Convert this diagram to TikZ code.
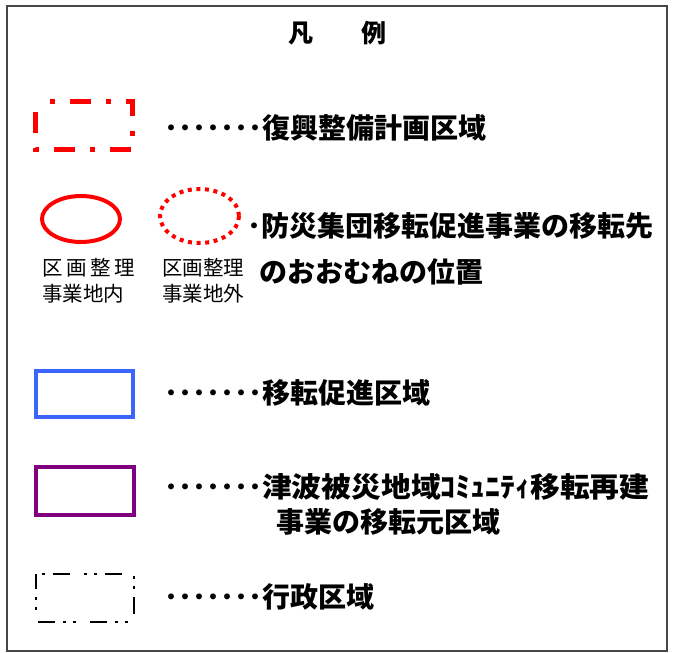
\documentclass[tikz,border=0pt]{standalone}
\usepackage{fontspec}
\setmainfont{Noto Sans CJK JP}[BoldFont={Noto Sans CJK JP Black}]
\definecolor{legblue}{RGB}{60,100,255}
\definecolor{legpurple}{RGB}{128,0,128}
\definecolor{framegray}{RGB}{70,70,70}
\tikzset{
  big/.style={inner sep=0pt, anchor=base west, font=\fontsize{28}{30}\selectfont\bfseries},
  small/.style={inner sep=0pt, anchor=base west, font=\fontsize{20.5}{22}\selectfont},
}
\begin{document}
\begin{tikzpicture}[x=1pt,y=-1pt]
\useasboundingbox (0,0) rectangle (675,653);
% frame
\draw[framegray, line width=2pt] (7,6) rectangle (667,651);
% title
\node[inner sep=0pt, anchor=base, font=\fontsize{25}{27}\selectfont\bfseries] (title) at (337,42) {凡\hspace{48pt}例};
% row 1: red dash-dot rectangle
\draw[red, line width=5pt, dash pattern=on 21pt off 15pt on 5pt off 15pt, dash phase=21.5pt]
  (35.5,101.5) -- (132.5,101.5) -- (132.5,149.5) -- (35.5,149.5) -- cycle;
\node[big] (t1) at (164,138.6) {･･･････復興整備計画区域};
% row 2: ellipses
\draw[red, line width=4pt] (81,219) ellipse [x radius=39, y radius=23];
\draw[red, line width=4pt, dash pattern=on 4pt off 4.6pt] (199.5,216) ellipse [x radius=39.5, y radius=27];
\node[small] (l1a) at (42,275) {区\hspace{3.7pt}画\hspace{3.7pt}整\hspace{3.7pt}理};
\node[small] (l1b) at (42,301) {事業地内};
\node[small] (l2a) at (162,275) {区画整理};
\node[small] (l2b) at (162,301) {事業地外};
\node[big] (t2a) at (247,236.6) {･防災集団移転促進事業の移転先};
\node[big] (t2b) at (259,282.6) {のおおむねの位置};
% row 3: blue rectangle
\draw[legblue, line width=4pt] (36,371) rectangle (133,417);
\node[big] (t3) at (164,403.6) {･･･････移転促進区域};
% row 4: purple rectangle
\draw[legpurple, line width=4pt] (36,467) rectangle (134,515);
\node[big] (t4a) at (164,497.6) {･･･････\scalebox{1.064}[1]{津波被災地域ｺﾐｭﾆﾃｨ移転再建}};
\node[big] (t4b) at (276,532.6) {事業の移転元区域};
% row 5: black dash-dot-dot rectangle
\draw[black, line width=2.8pt, dash pattern=on 17pt off 14pt on 3pt off 7pt on 3pt off 8pt, dash phase=35pt]
  (36,574) -- (134,574) -- (134,622) -- (36,622) -- cycle;
\node[big] (t5) at (164,607.6) {･･･････行政区域};
\end{tikzpicture}
\end{document}
